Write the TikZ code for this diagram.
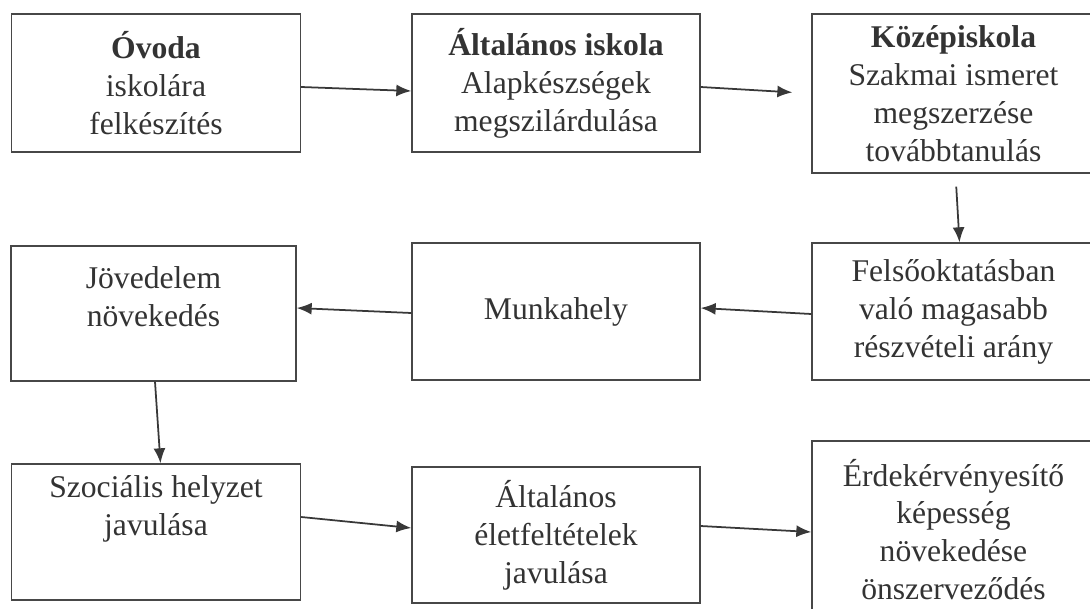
\documentclass[tikz,border=0pt]{standalone}
\usepackage{fontspec}
\setmainfont{Liberation Serif}
\usetikzlibrary{arrows.meta,positioning}

\begin{document}
\begin{tikzpicture}[x=0.02cm,y=-0.02cm,
    box/.style={draw=black!72,line width=0.8pt,inner sep=0pt,align=center,
                text=black!80,font=\fontsize{18}{21.6}\selectfont},
    boxtext/.style={inner sep=0pt,align=center,text=black!80,
                font=\fontsize{18}{21.6}\selectfont},
    flow/.style={draw=black!78,line width=1pt,-{Latex[length=3mm,width=2.4mm]}}]

\useasboundingbox (0,0) rectangle (1090,609);
\clip (0,0) rectangle (1090,609);

% Top row
\node[box,minimum width=5.78cm,minimum height=2.76cm] (ovoda) at (156,83)
    {\textbf{Óvoda}\\iskolára\\felkészítés};
\node[box,minimum width=5.76cm,minimum height=2.76cm] (altisk) at (556,83)
    {\textbf{Általános iskola}\\Alapkészségek\\megszilárdulása};
\node[box,minimum width=5.66cm,minimum height=3.18cm] (kozep) at (953.5,93.5)
    {\textbf{Középiskola}\\Szakmai ismeret\\megszerzése\\továbbtanulás};

% Middle row
\node[box,minimum width=5.7cm,minimum height=2.7cm] (jov) at (153.5,313.5) {};
\node[boxtext,below=0.42cm of jov.north] (jovtext) {Jövedelem\\növekedés};
\node[box,minimum width=5.76cm,minimum height=2.74cm] (munka) at (556,311.5)
    {Munkahely};
\node[box,minimum width=5.66cm,minimum height=2.74cm] (felso) at (953.5,311.5)
    {Felsőoktatásban\\való magasabb\\részvételi arány};

% Bottom row
\node[box,minimum width=5.78cm,minimum height=2.72cm] (szoc) at (156,532) {};
\node[boxtext,below=0.24cm of szoc.north] (szoctext) {Szociális helyzet\\javulása};
\node[box,minimum width=5.76cm,minimum height=2.72cm] (eletf) at (556,535)
    {Általános\\életfeltételek\\javulása};
\node[box,minimum width=5.66cm,minimum height=3.54cm] (erdek) at (953.5,529.5)
    {Érdekérvényesítő\\képesség\\növekedése\\önszerveződés};

% Arrows
\draw[flow] ([yshift=-0.08cm]ovoda.east) -- ([yshift=-0.16cm]altisk.west);
\draw[flow,shorten >=0.38cm] ([yshift=-0.08cm]altisk.east) -- (kozep.west);
\draw[flow,shorten <=0.26cm] ([xshift=0.04cm]kozep.south) -- ([xshift=0.12cm]felso.north);
\draw[flow] ([yshift=-0.05cm]felso.west) -- ([yshift=0.07cm]munka.east);
\draw[flow] ([yshift=-0.03cm]munka.west) -- ([yshift=0.11cm]jov.east);
\draw[flow] ([xshift=0.03cm]jov.south) -- ([xshift=0.09cm]szoc.north);
\draw[flow] ([yshift=0.3cm]szoc.east) -- ([yshift=0.14cm]eletf.west);
\draw[flow] ([yshift=0.18cm]eletf.east) -- ([yshift=-0.05cm]erdek.west);

\end{tikzpicture}
\end{document}
